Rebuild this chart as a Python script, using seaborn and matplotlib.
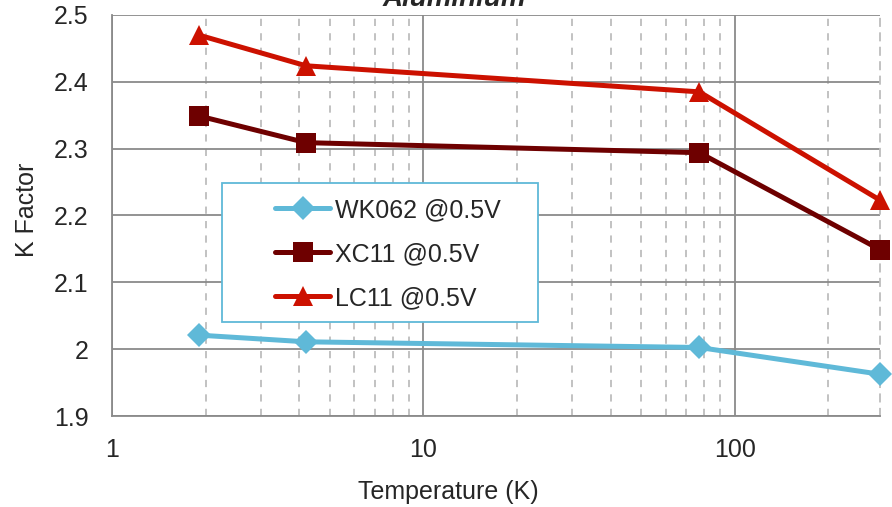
import matplotlib
matplotlib.use("Agg")
import matplotlib.pyplot as plt
from matplotlib.patches import Rectangle
from matplotlib.ticker import FuncFormatter, LogLocator, FixedLocator
import seaborn as sns
import pandas as pd

temps = [1.9, 4.2, 77, 293]
wk062 = [2.021, 2.011, 2.0025, 1.9625]
xc11 = [2.349, 2.309, 2.294, 2.149]
lc11 = [2.470, 2.424, 2.385, 2.223]

series = ["WK062 @0.5V", "XC11 @0.5V", "LC11 @0.5V"]
colors = ["#5FB9D8", "#6E0000", "#CC1100"]
markers = ["D", "s", "^"]
msizes = [12.5, 14, 14]

df = pd.DataFrame({"T": temps * 3,
                   "K": wk062 + xc11 + lc11,
                   "series": sum([[s] * len(temps) for s in series], [])})

sns.set_style("white")
plt.rcParams["font.family"] = ["Liberation Sans", "DejaVu Sans"]

fig = plt.figure(figsize=(8.92, 5.07), dpi=100)
ax = fig.add_axes([112 / 892, 1 - 416 / 507, 768 / 892, 401 / 507])

for name, c, m, ms in zip(series, colors, markers, msizes):
    sub = df[df["series"] == name]
    sns.lineplot(data=sub, x="T", y="K", ax=ax, color=c, marker=m,
                 markersize=ms, markeredgewidth=0, linewidth=3.6,
                 label=name, clip_on=False, zorder=5)

ax.set_xscale("log")
ax.set_xlim(1, temps[-1])
ax.set_ylim(1.9, 2.5)
ax.yaxis.set_major_locator(FixedLocator([1.9, 2.0, 2.1, 2.2, 2.3, 2.4, 2.5]))
ax.yaxis.set_major_formatter(FuncFormatter(lambda v, p: f"{v:g}"))
ax.xaxis.set_major_locator(FixedLocator([1, 10, 100]))
ax.xaxis.set_major_formatter(FuncFormatter(lambda v, p: f"{v:g}"))
ax.xaxis.set_minor_locator(LogLocator(base=10, subs=range(2, 10)))
ax.xaxis.set_minor_formatter(FuncFormatter(lambda v, p: ""))

ax.grid(True, which="major", axis="both", color="#8a8a8a", linewidth=1.3)
ax.grid(True, which="minor", axis="x", color="#bdbdbd", linewidth=1.3,
        linestyle=(0, (4, 4)))
ax.set_axisbelow(True)
ax.tick_params(axis="both", which="both", length=0, labelsize=18)
ax.tick_params(axis="y", pad=17)
ax.tick_params(axis="x", pad=16)

ax.spines["top"].set_visible(False)
ax.spines["right"].set_color("#bdbdbd")
ax.spines["right"].set_linewidth(1.3)
ax.spines["right"].set_linestyle((0, (4, 4)))
for s in ["left", "bottom"]:
    ax.spines[s].set_color("#8a8a8a")
    ax.spines[s].set_linewidth(1.3)

ax.set_xlabel("")
ax.set_ylabel("")
fig.text(448 / 892, 1 - 492 / 507, "Temperature (K)", fontsize=18,
         ha="center", va="center")
fig.text(27 / 892, 1 - 210 / 507, "K Factor", fontsize=18, rotation=90,
         ha="center", va="center")
fig.text(454 / 892, 1 - 6 / 507, "Aluminium", fontsize=20, fontweight="bold",
         fontstyle="italic", ha="center", va="baseline")

# legend box drawn as a separate frame like Excel
ax.add_patch(Rectangle((110 / 768, 1 - 322 / 401 + 15 / 401), 316 / 768,
                       139 / 401, transform=ax.transAxes, fill=True,
                       facecolor="white", edgecolor="#5FB9D8", linewidth=1.3,
                       zorder=6, clip_on=False))
leg = ax.legend(loc="center left", bbox_to_anchor=(163 / 768, 1 - 254 / 401 + 15 / 401),
                frameon=False, fontsize=18, handlelength=2.2,
                handletextpad=0.2, labelspacing=0.8, borderpad=0,
                borderaxespad=0)
leg.set_zorder(7)

fig.savefig("out.png", dpi=100)
